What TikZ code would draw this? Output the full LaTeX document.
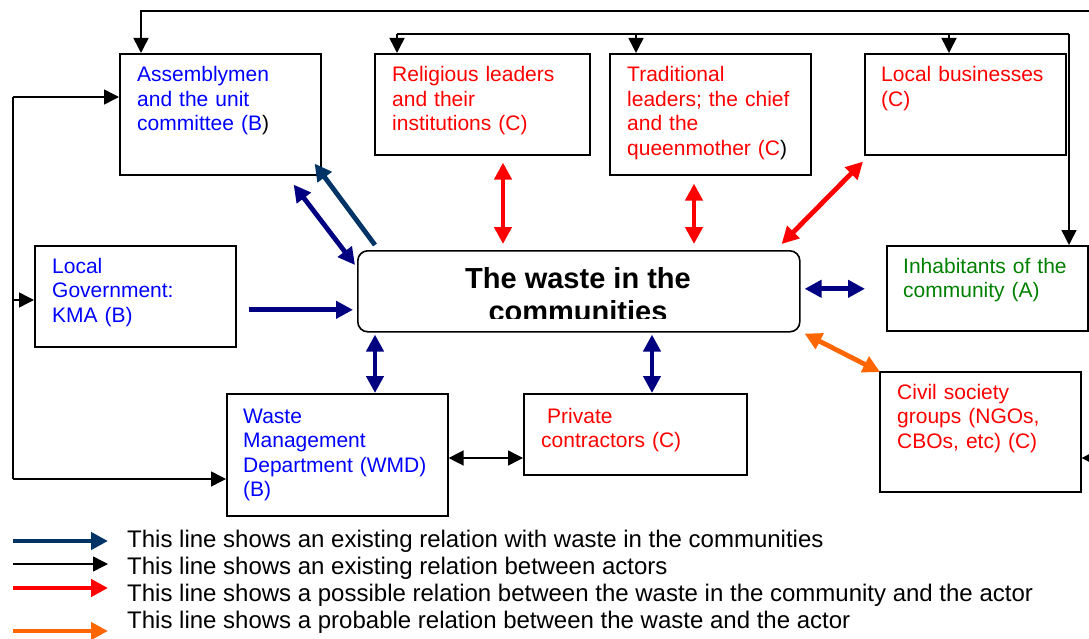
\documentclass[tikz,border=0pt]{standalone}
\usepackage{fontspec}
\setmainfont{Liberation Sans}
\usetikzlibrary{arrows.meta,calc}
\definecolor{cB}{RGB}{0,0,255}
\definecolor{cC}{RGB}{255,0,0}
\definecolor{cA}{RGB}{0,128,0}
\definecolor{navyc}{RGB}{0,0,128}
\definecolor{tealc}{RGB}{0,51,102}
\definecolor{orangec}{RGB}{255,102,0}
\definecolor{redc}{RGB}{255,0,0}
\begin{document}
\begin{tikzpicture}[x=1pt,y=-1pt,
 box/.style={draw=black, line width=1.6pt, anchor=north west, inner sep=0pt, rectangle},
 lbl/.style={anchor=base west, align=left, inner sep=0pt, text width=200pt, font=\fontsize{21}{24.5}\selectfont},
 busline/.style={draw=black, line width=1.5pt},
 blk/.style={busline, -{Triangle[length=15pt,width=15pt]}},
 blkk/.style={busline, {Triangle[length=15pt,width=15pt]}-{Triangle[length=15pt,width=15pt]}},
 fat/.style={line width=4.8pt, -{Triangle[length=17pt,width=17pt]}},
 fatt/.style={line width=4.8pt, {Triangle[length=17pt,width=17pt]}-{Triangle[length=17pt,width=17pt]}},
 legtxt/.style={anchor=base west, inner sep=0pt, font=\fontsize{24}{27}\selectfont}
]
\useasboundingbox (0,0) rectangle (1089,639);
\clip (0,0) rectangle (1089,639);

% boxes
\node[box, minimum width=201pt, minimum height=121pt] (asm) at (119,53) {};
\node[box, minimum width=215pt, minimum height=101pt] (rel) at (374,53) {};
\node[box, minimum width=201pt, minimum height=121pt] (trad) at (609,53) {};
\node[box, minimum width=201pt, minimum height=101pt] (biz) at (864,53) {};
\node[box, minimum width=201pt, minimum height=101pt] (kma) at (34,245) {};
\node[box, minimum width=442pt, minimum height=81pt, rounded corners=10pt] (waste) at (357,250) {};
\node[box, minimum width=201pt, minimum height=85pt] (inhab) at (886,245) {};
\node[box, minimum width=221pt, minimum height=122pt] (wmd) at (226,393) {};
\node[box, minimum width=223pt, minimum height=81pt] (priv) at (523,393) {};
\node[box, minimum width=201pt, minimum height=120pt] (civil) at (879,371) {};

% texts
\node[lbl, text=cB] (asmT) at (137,82) {Assemblymen\\and the unit\\committee (B\textcolor{black}{)}};
\node[lbl, text=cC] (relT) at (392,82) {Religious leaders\\and their\\institutions (C)};
\node[lbl, text=cC] (tradT) at (627,82) {Traditional\\leaders; the chief\\and the\\queenmother (C\textcolor{black}{)}};
\node[lbl, text=cC] (bizT) at (881,82) {Local businesses\\(C)};
\node[lbl, text=cB] (kmaT) at (52,273) {Local\\Government:\\KMA (B)};
\node[lbl, text=cA] (inhabT) at (903,273) {Inhabitants of the\\community (A)};
\node[lbl, text=cB] (wmdT) at (243,423) {Waste\\Management\\Department (WMD)\\(B)};
\node[lbl, text=cC] (privT) at (541,423) {\hspace*{6pt}Private\\contractors (C)};
\node[lbl, text=cC] (civilT) at (897,399) {Civil society\\groups (NGOs,\\CBOs, etc) (C)};

\begin{scope}
\clip (357,250) rectangle (799,318);
\node[anchor=base, align=center, inner sep=0pt, font=\bfseries\fontsize{29}{33}\selectfont] (wasteT) at (578,321) {The waste in the\\communities};
\end{scope}

% coordinates for buses
\coordinate (rtop) at (1100,11);
\coordinate (rinh) at (1100,287.5);
\coordinate (rciv) at (1100,458);
\coordinate (b2l) at (397,34);
\coordinate (b2t) at (636,34);
\coordinate (b2b) at (949,34);
\coordinate (b2r) at (1069,34);
\coordinate (lb1) at (13,97);
\coordinate (lbk) at (13,300);
\coordinate (lb3) at (13,479);
\coordinate (xa) at (141,0);
\coordinate (x1) at (375,0);
\coordinate (x2) at (652,0);
\coordinate (xr1) at (503,0);
\coordinate (xr2) at (694,0);

% black connectors
\draw[blk] (rtop) -| (xa |- asm.north);
\draw[busline] (rtop) -- (rciv);
\draw[blk] (rinh) -- (inhab.east);
\draw[blk] (rciv) -- (rciv -| civil.east);
\draw[busline] (b2l) -- (b2r);
\draw[blk] (b2l) -- (b2l |- rel.north);
\draw[blk] (b2t) -- (b2t |- trad.north);
\draw[blk] (b2b) -- (b2b |- biz.north);
\draw[blk] (b2r) -- (b2r |- inhab.north);
\draw[busline] (lb1) -- (lb3);
\draw[blk] (lb1) -- (lb1 -| asm.west);
\draw[blk] (lbk) -- (lbk -| kma.west);
\draw[blk] (lb3) -- (lb3 -| wmd.west);
\draw[blkk] (wmd.east |- rciv) -- (priv.west |- rciv);

% thick connectors
\draw[fat, tealc] ($(waste.north west)+(18,-5)$) -- ($(asm.south east)+(-7,-12)$);
\draw[fatt, navyc] ($(asm.south east)+(-28,9)$) -- ($(waste.north west)+(-2,15)$);
\draw[fat, navyc] ($(kma.east)+(12,13.5)$) -- ($(waste.west)+(-4,18.5)$);
\draw[fatt, navyc] ($(waste.south -| x1)+(0,2)$) -- (wmd.north -| x1);
\draw[fatt, navyc] ($(waste.south -| x2)+(0,2)$) -- (priv.north -| x2);
\draw[fatt, navyc] ($(waste.east)+(4,-2.5)$) -- ($(inhab.west)+(-21,0.5)$);
\draw[fatt, redc] ($(rel.south -| xr1)+(0,7)$) -- ($(waste.north -| xr1)+(0,-6)$);
\draw[fatt, redc] ($(trad.south -| xr2)+(0,8)$) -- ($(waste.north -| xr2)+(0,-6)$);
\draw[fatt, redc] ($(waste.north east)+(-19,-6)$) -- ($(biz.south west)+(-1,6)$);
\draw[fatt, orangec] ($(waste.south east)+(4,1)$) -- ($(civil.north west)+(1,1)$);

% legend
\coordinate (l1s) at (13,541); \coordinate (l1e) at (108,541);
\coordinate (l2s) at (13,564); \coordinate (l2e) at (108,564);
\coordinate (l3s) at (13,588); \coordinate (l3e) at (108,588);
\coordinate (l4s) at (13,631); \coordinate (l4e) at (108,631);
\draw[fat, tealc] (l1s) -- (l1e);
\draw[blk] (l2s) -- (l2e);
\draw[fat, redc] (l3s) -- (l3e);
\draw[fat, orangec] (l4s) -- (l4e);
\node[legtxt] (lt1) at (127,547) {This line shows an existing relation with waste in the communities};
\node[legtxt] (lt2) at (127,574) {This line shows an existing relation between actors};
\node[legtxt] (lt3) at (127,601) {This line shows a possible relation between the waste in the community and the actor};
\node[legtxt] (lt4) at (127,628) {This line shows a probable relation between the waste and the actor};
\end{tikzpicture}
\end{document}
